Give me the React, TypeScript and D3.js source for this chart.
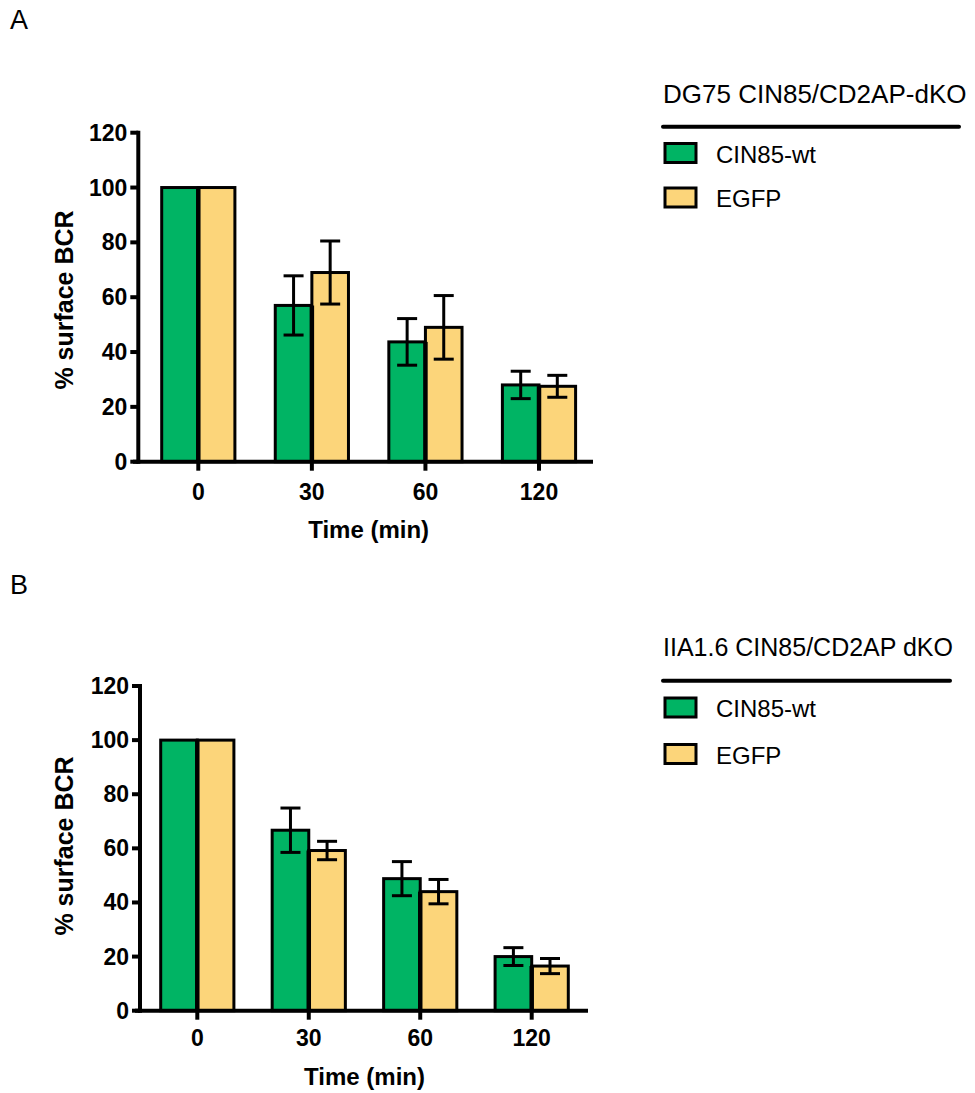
import React from "react";
import * as d3 from "d3";

// ---- data ----
const timeLabels = ["0", "30", "60", "120"];
const seriesNames = ["CIN85-wt", "EGFP"];
const seriesColors = ["#00b464", "#fcd57a"];
const yTicks = [0, 20, 40, 60, 80, 100, 120];

const aTitle = "DG75 CIN85/CD2AP-dKO";
const aMeanWt = [100, 57, 43.7, 28];
const aSdWt = [0, 10.8, 8.5, 5];
const aMeanEgfp = [100, 69, 49, 27.5];
const aSdEgfp = [0, 11.5, 11.6, 4];

const bTitle = "IIA1.6 CIN85/CD2AP dKO";
const bMeanWt = [100, 66.7, 48.8, 20];
const bSdWt = [0, 8.2, 6.3, 3.3];
const bMeanEgfp = [100, 59.2, 44, 16.5];
const bSdEgfp = [0, 3.4, 4.5, 2.8];

const FONT = "'Liberation Sans', Arial, Helvetica, sans-serif";

type PanelProps = {
  letter: string;
  letterY: number;
  title: string;
  titleSize: number;
  means: number[][];
  sds: number[][];
  axisX: number;
  y0: number;
  y120: number;
  xFirst: number;
  xLast: number;
  xAxisStart: number;
  xAxisEnd: number;
  yLabelY: number;
  tickLabelY: number;
  xTitleY: number;
  legendTitleY: number;
  legendLineY: number;
  legendLineEnd: number;
  legendBoxY: number[];
};

function Panel(p: PanelProps) {
  const y = d3.scaleLinear().domain([0, 120]).range([p.y0, p.y120]);
  const x = d3.scalePoint<string>().domain(timeLabels).range([p.xFirst, p.xLast]);
  const barW = 36.6;
  const capW = 20;
  const xMid = (p.xFirst + p.xLast) / 2;
  return (
    <g>
      <text x={10} y={p.letterY} fontSize={27} fontFamily={FONT}>
        {p.letter}
      </text>
      {/* bars */}
      {p.means.map((ser, si) =>
        ser.map((v, i) => {
          const cx = x(timeLabels[i])!;
          const left = si === 0 ? cx - barW : cx;
          return (
            <rect
              key={`b${si}-${i}`}
              x={left}
              y={y(v)}
              width={barW}
              height={y(0) - y(v)}
              fill={seriesColors[si]}
              stroke="#000"
              strokeWidth={3}
            />
          );
        })
      )}
      {/* divider between paired bars */}
      {p.means[0].map((v, i) => {
        const cx = x(timeLabels[i])!;
        const top = y(Math.min(v, p.means[1][i]));
        return (
          <line
            key={`d${i}`}
            x1={cx}
            x2={cx}
            y1={top}
            y2={y(0)}
            stroke="#000"
            strokeWidth={4.5}
          />
        );
      })}
      {/* error bars */}
      {p.means.map((ser, si) =>
        ser.map((v, i) => {
          const sd = p.sds[si][i];
          if (!sd) return null;
          const cx = x(timeLabels[i])! + (si === 0 ? -barW / 2 : barW / 2);
          const yt = y(v + sd);
          const yb = y(v - sd);
          return (
            <g key={`e${si}-${i}`} stroke="#000" strokeWidth={3}>
              <line x1={cx} x2={cx} y1={yt} y2={yb} />
              <line x1={cx - capW / 2} x2={cx + capW / 2} y1={yt} y2={yt} />
              <line x1={cx - capW / 2} x2={cx + capW / 2} y1={yb} y2={yb} />
            </g>
          );
        })
      )}
      {/* axes */}
      <line x1={p.axisX} x2={p.axisX} y1={y(120) - 2} y2={y(0) + 2} stroke="#000" strokeWidth={4} />
      <line x1={p.xAxisStart} x2={p.xAxisEnd} y1={y(0)} y2={y(0)} stroke="#000" strokeWidth={4} />
      {yTicks.map((t) => (
        <g key={`yt${t}`}>
          <line x1={p.axisX - 8} x2={p.axisX} y1={y(t)} y2={y(t)} stroke="#000" strokeWidth={4} />
          <text
            x={p.axisX - 11}
            y={y(t) + 8}
            textAnchor="end"
            fontSize={23}
            fontWeight="bold"
            fontFamily={FONT}
          >
            {t}
          </text>
        </g>
      ))}
      {timeLabels.map((t) => (
        <g key={`xt${t}`}>
          <line x1={x(t)!} x2={x(t)!} y1={y(0)} y2={y(0) + 9} stroke="#000" strokeWidth={4} />
          <text
            x={x(t)!}
            y={p.tickLabelY}
            textAnchor="middle"
            fontSize={23}
            fontWeight="bold"
            fontFamily={FONT}
          >
            {t}
          </text>
        </g>
      ))}
      <text
        x={xMid}
        y={p.xTitleY}
        textAnchor="middle"
        fontSize={24}
        fontWeight="bold"
        fontFamily={FONT}
      >
        Time (min)
      </text>
      <text
        transform={`translate(73,${p.yLabelY}) rotate(-90)`}
        textAnchor="middle"
        fontSize={25}
        fontWeight="bold"
        fontFamily={FONT}
      >
        % surface BCR
      </text>
      {/* legend */}
      <text x={663} y={p.legendTitleY} fontSize={p.titleSize} fontFamily={FONT}>
        {p.title}
      </text>
      <line
        x1={663}
        x2={p.legendLineEnd}
        y1={p.legendLineY}
        y2={p.legendLineY}
        stroke="#000"
        strokeWidth={4}
        strokeLinecap="round"
      />
      {seriesNames.map((n, si) => (
        <g key={`lg${si}`}>
          <rect
            x={665}
            y={p.legendBoxY[si]}
            width={31}
            height={19}
            fill={seriesColors[si]}
            stroke="#000"
            strokeWidth={3}
          />
          <text x={716} y={p.legendBoxY[si] + 19} fontSize={24} fontFamily={FONT}>
            {n}
          </text>
        </g>
      ))}
    </g>
  );
}

export default function App() {
  return (
    <svg
      width={975}
      height={1093}
      style={{ position: "absolute", left: 0, top: 0, background: "#fff" }}
    >
      <rect width={975} height={1093} fill="#fff" />
      <Panel
        letter="A"
        letterY={29}
        title={aTitle}
        titleSize={26}
        means={[aMeanWt, aMeanEgfp]}
        sds={[aSdWt, aSdEgfp]}
        axisX={138.3}
        y0={461.7}
        y120={132.7}
        xFirst={198.3}
        xLast={539}
        xAxisStart={133}
        xAxisEnd={593}
        yLabelY={300}
        tickLabelY={500}
        xTitleY={538}
        legendTitleY={103}
        legendLineY={126.7}
        legendLineEnd={959}
        legendBoxY={[143.5, 188]}
      />
      <Panel
        letter="B"
        letterY={594}
        title={bTitle}
        titleSize={25}
        means={[bMeanWt, bMeanEgfp]}
        sds={[bSdWt, bSdEgfp]}
        axisX={140}
        y0={1010.7}
        y120={686}
        xFirst={197.3}
        xLast={531.7}
        xAxisStart={135}
        xAxisEnd={588}
        yLabelY={846}
        tickLabelY={1045.7}
        xTitleY={1085}
        legendTitleY={656}
        legendLineY={680.7}
        legendLineEnd={950}
        legendBoxY={[698, 744.5]}
      />
    </svg>
  );
}
